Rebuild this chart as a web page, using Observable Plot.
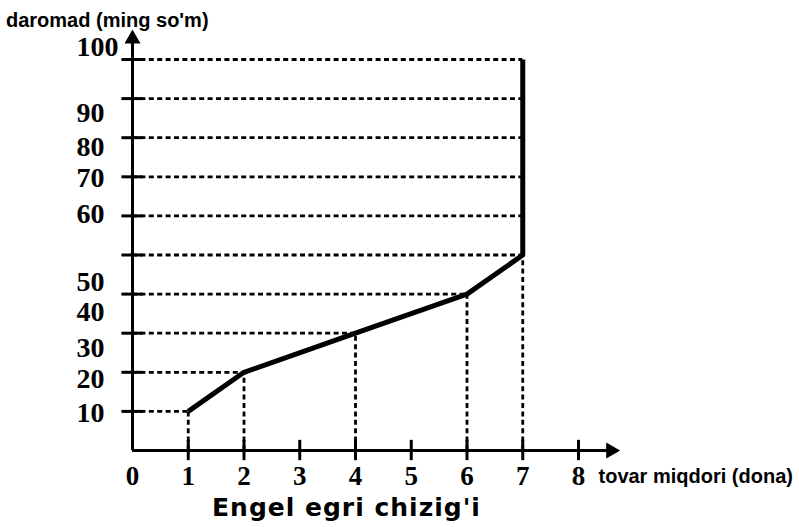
<!DOCTYPE html>
<html><head><meta charset="utf-8">
<script src="https://cdn.jsdelivr.net/npm/d3@7"></script>
<script src="https://cdn.jsdelivr.net/npm/@observablehq/plot@0.6"></script>
<style>
body{margin:0;background:#fff;}
#wrap{position:relative;width:799px;height:527px;overflow:hidden;background:#fff;}
#wrap svg{position:absolute;left:0;top:0;}
.ttl{position:absolute;left:6px;top:9px;font:bold 20px "Liberation Sans Narrow","Liberation Sans",sans-serif;color:#000;white-space:nowrap;}
.cap{position:absolute;left:212px;top:493px;font:bold 25px "DejaVu Sans",sans-serif;letter-spacing:1px;color:#000;white-space:nowrap;}
</style></head><body>
<div id="wrap"><div class="ttl">daromad (ming so'm)</div><div class="cap">Engel egri chizig'i</div></div>
<script>
// Engel curve data
const quantity = [1, 2, 4, 6, 7, 7];
const income = [10, 20, 30, 40, 50, 100];
const xTicks = [0, 1, 2, 3, 4, 5, 6, 7, 8];
const yTicks = [10, 20, 30, 40, 50, 60, 70, 80, 90, 100];
// y labels and where they sit in the picture (value units)
const yLabelValues = ["10", "20", "30", "40", "50", "60", "70", "80", "90", "100"];
const yLabelPos = [9.5, 18.4, 26.3, 35.3, 43.0, 60.4, 69.8, 77.7, 86.2, 103.3];
const xLabel = "tovar miqdori (dona)";

const points = quantity.map((q, i) => ({x: q, y: income[i]}));
const hLines = yTicks.map(t => ({y: t, x: points.find(p => p.y >= t).x}));
const vLines = points.slice(0, 5);
const yLabels = yLabelValues.map((t, i) => ({t, y: yLabelPos[i]}));

const serif = "Liberation Serif, Times New Roman, serif";
const dash = {stroke: "#000", strokeWidth: 2.8, strokeDasharray: "5,3.4"};

const plot = Plot.plot({
  width: 799, height: 527,
  marginLeft: 132, marginRight: 221, marginTop: 59, marginBottom: 77,
  x: {domain: [0, 8], axis: null},
  y: {domain: [0, 100], axis: null},
  style: {background: "transparent"},
  marks: [
    Plot.ruleY(hLines, {y: "y", x1: 0, x2: "x", ...dash}),
    Plot.ruleX(vLines, {x: "x", y1: 0, y2: "y", ...dash}),
    Plot.line(points, {x: "x", y: "y", stroke: "#000", strokeWidth: 5, strokeLinejoin: "round", strokeLinecap: "butt"}),
    Plot.ruleY([0], {x1: 0, x2: 8.55, stroke: "#000", strokeWidth: 3}),
    Plot.ruleX([0], {y1: 0, y2: 105, stroke: "#000", strokeWidth: 3}),
    Plot.ruleX(xTicks.slice(1), {x: d => d, y1: -2.6, y2: 2.6, stroke: "#000", strokeWidth: 3}),
    Plot.ruleY(yTicks, {y: d => d, x1: -0.19, x2: 0.19, stroke: "#000", strokeWidth: 3}),
    Plot.dot([{x: 0, y: 105.3}], {x: "x", y: "y", symbol: "triangle", r: 5, fill: "#000", stroke: "#000"}),
    Plot.dot([{x: 8.58, y: 0}], {x: "x", y: "y", symbol: "triangle", r: 5, fill: "#000", stroke: "#000", rotate: 90}),
    Plot.text(xTicks, {x: d => d, y: 0, dy: 26, text: d => String(d), fontSize: 27, fontWeight: "bold", fontFamily: serif, fill: "#000"}),
    Plot.text(yLabels, {x: 0, y: "y", dx: -56, text: "t", textAnchor: "start", fontSize: 28, fontWeight: "bold", fontFamily: serif, fill: "#000"}),
    Plot.text([xLabel], {x: 8, y: 0, dx: 20, dy: 26, text: d => d, textAnchor: "start", fontSize: 20, fontWeight: "bold", fontFamily: "Liberation Sans Narrow, Liberation Sans, sans-serif", fill: "#000"})
  ]
});
document.getElementById("wrap").prepend(plot);
</script>
</body></html>
